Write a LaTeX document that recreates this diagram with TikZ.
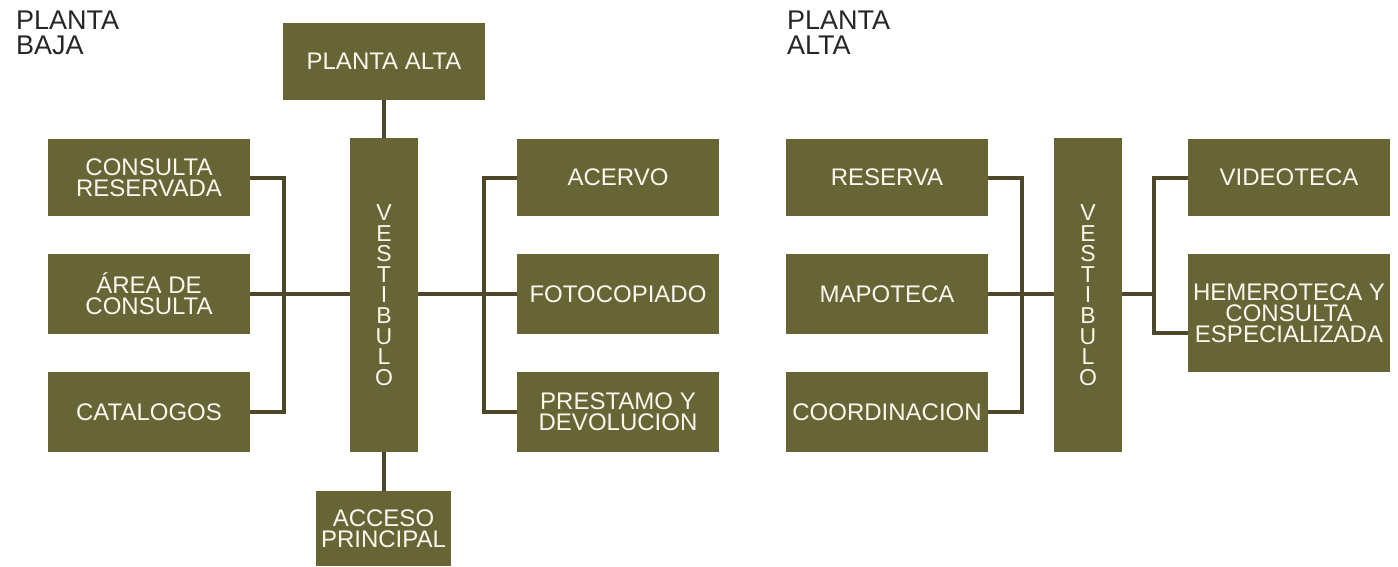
\documentclass[tikz,border=0pt]{standalone}
\usepackage{fontspec}
\setmainfont{Liberation Sans}

\definecolor{olivo}{RGB}{103,100,54}
\definecolor{enlace}{RGB}{77,72,44}
\definecolor{crema}{RGB}{250,248,238}

\newcommand{\pxscl}{1}
\newcommand{\px}[1]{#1*\pxscl}
\newcommand{\sala}{\node[sala]}
\newcommand{\vest}{\node[vest]}
\newcommand{\titulo}{\node[titulo]}

\tikzset{
    sala/.style={rectangle, fill=olivo, text=crema, inner sep=2pt,
        minimum width=202pt, minimum height=80pt, align=center,
        font=\fontsize{24}{21}\selectfont},
    vest/.style={rectangle, fill=olivo, text=crema, inner sep=0pt,
        minimum width=68pt, minimum height=314pt, align=center,
        font=\fontsize{23}{20.6}\selectfont},
    titulo/.style={anchor=north west, inner sep=0pt, align=left,
        text=black!85, font=\fontsize{27}{25}\selectfont},
    enlace/.style={draw=enlace, line width=4pt},
}

\begin{document}
\begin{tikzpicture}[x=1pt, y=-1pt]
        \useasboundingbox (0,0) rectangle (1398,566);

        % planta baja
        \titulo (tb) at (\px{16}, \px{11}) {PLANTA\\BAJA};
        \sala[minimum height=77pt] (pa) at (\px{384}, \px{61.5}) {PLANTA ALTA};
        \vest (vb) at (\px{384}, \px{295}) {V\\E\\S\\T\\I\\B\\U\\L\\O};
        \sala[minimum width=135pt, minimum height=75pt] (ap) at (\px{383.5}, \px{528.5}) {ACCESO\\PRINCIPAL};
        \sala[minimum height=77pt] (cr) at (\px{149}, \px{177.5}) {CONSULTA\\RESERVADA};
        \sala (ac) at (\px{149}, \px{294}) {ÁREA DE\\CONSULTA};
        \sala (ct) at (\px{149}, \px{412}) {CATALOGOS};
        \sala[minimum height=77pt] (av) at (\px{618}, \px{177.5}) {ACERVO};
        \sala (fc) at (\px{618}, \px{294}) {FOTOCOPIADO};
        \sala (pd) at (\px{618}, \px{412}) {PRESTAMO Y\\DEVOLUCION};

        % planta alta
        \titulo (ta) at (\px{787}, \px{11}) {PLANTA\\ALTA};
        \vest (va) at (\px{1088}, \px{295}) {V\\E\\S\\T\\I\\B\\U\\L\\O};
        \sala[minimum height=77pt] (rs) at (\px{887}, \px{177.5}) {RESERVA};
        \sala (mp) at (\px{887}, \px{294}) {MAPOTECA};
        \sala (co) at (\px{887}, \px{412}) {COORDINACION};
        \sala[minimum height=77pt] (vt) at (\px{1289}, \px{177.5}) {VIDEOTECA};
        \sala[minimum height=118pt] (hm) at (\px{1289}, \px{313}) {HEMEROTECA Y\\CONSULTA\\ESPECIALIZADA};

        \coordinate (bbi) at (\px{284}, \px{294});
        \coordinate (bbd) at (\px{484}, \px{294});
        \coordinate (bai) at (\px{1022}, \px{294});
        \coordinate (bad) at (\px{1154}, \px{294});
        \coordinate (hmin) at (\px{1188}, \px{333});

        \draw[enlace]
            (cr.east) -| (bbi) |- (ct.east)
            (ac.east) -- (vb.west |- ac.east)
            (av.west) -| (bbd) |- (pd.west)
            (vb.east |- fc.west) -- (fc.west)
            (vb.north) -- (vb.north |- pa.south)
            (vb.south) -- (vb.south |- ap.north)
            (rs.east) -| (bai) |- (co.east)
            (mp.east) -- (va.west |- mp.east)
            (vt.west) -| (bad) |- (hmin)
            (va.east |- bad) -- (bad)
            ;
    \end{tikzpicture}
\end{document}
